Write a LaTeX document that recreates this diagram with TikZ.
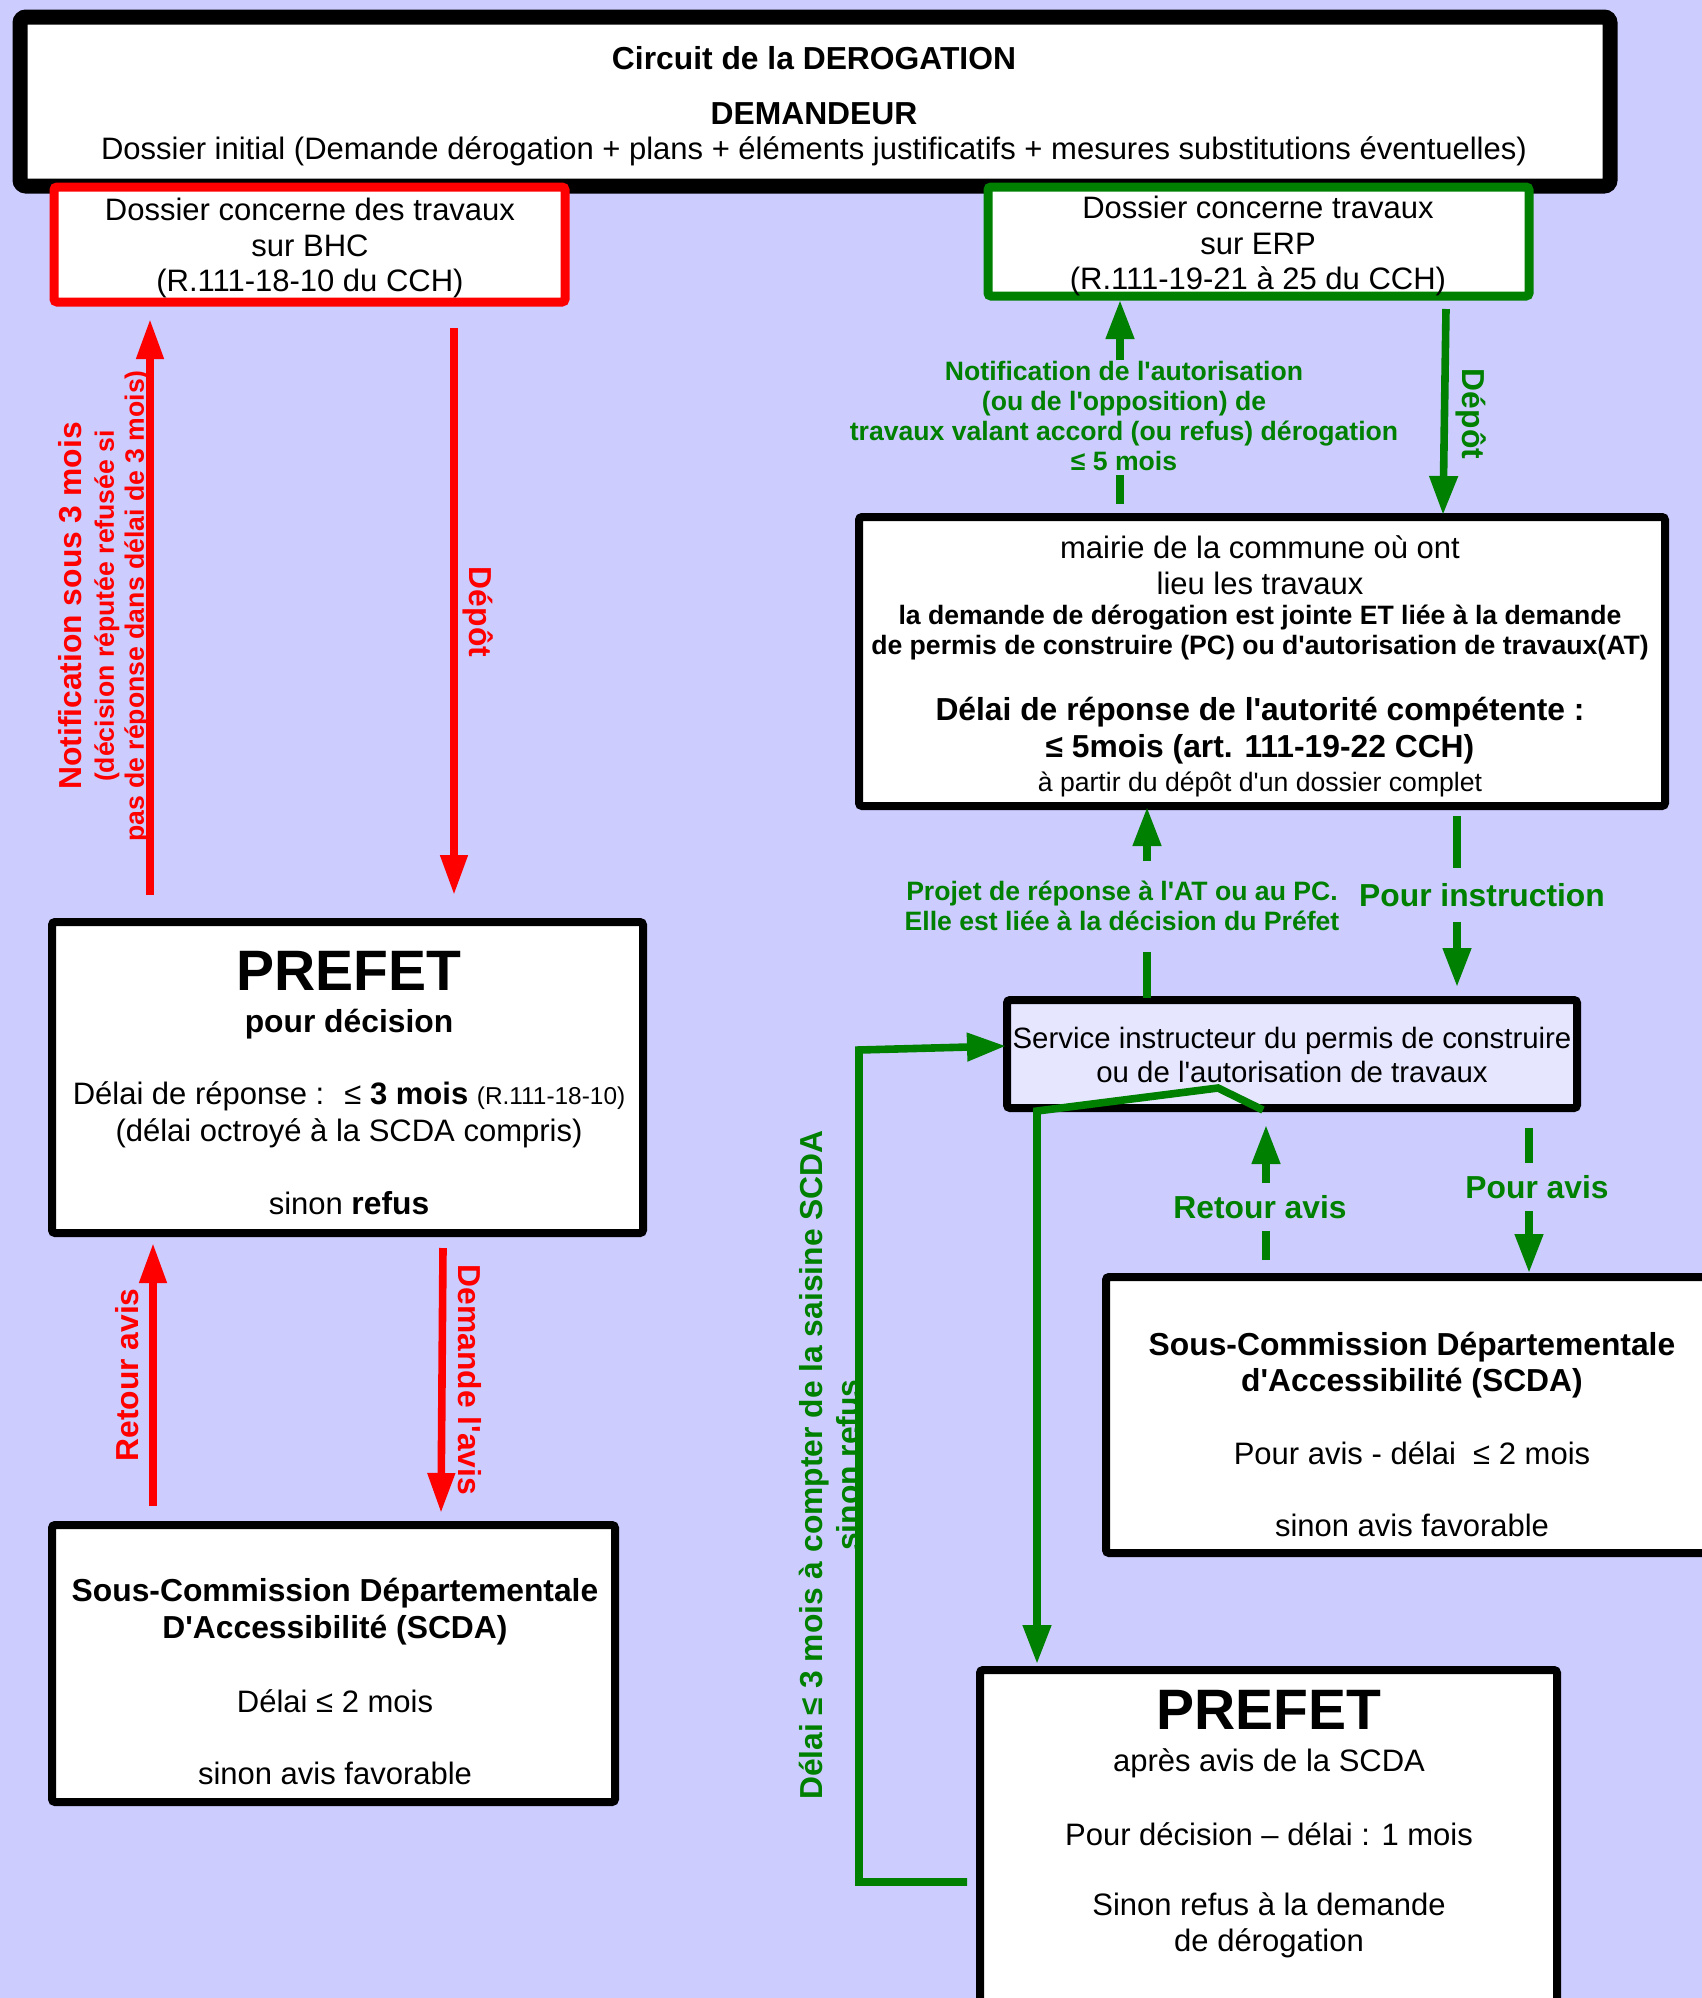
\documentclass[tikz,border=0pt]{standalone}
\usepackage{fontspec}
\setmainfont{Liberation Sans}[Ligatures=TeXOff]
\usetikzlibrary{arrows.meta,fit}
\definecolor{bgc}{RGB}{204,204,255}
\definecolor{dgreen}{RGB}{0,128,0}
\definecolor{svcfill}{RGB}{230,230,255}
\newcommand{\fszA}{\fontsize{15.5}{17.8}\selectfont}
\newcommand{\fszF}{\fontsize{15.9}{17.8}\selectfont}
\newcommand{\fszB}{\fontsize{13.3}{15}\selectfont}
\newcommand{\fszC}{\fontsize{28.5}{32}\selectfont}
\newcommand{\fszD}{\fontsize{14.7}{17}\selectfont}
\newcommand{\fszE}{\fontsize{12.2}{14}\selectfont}
\begin{document}
\begin{tikzpicture}[x=0.5pt,y=-0.5pt,
  boxk/.style={draw=black,line width=4pt,fill=white,rounded corners=1.5pt,inner sep=0pt},
  boxr/.style={draw=red,line width=4.5pt,fill=white,rounded corners=1.5pt,inner sep=0pt},
  boxg/.style={draw=dgreen,line width=4.5pt,fill=white,rounded corners=1.5pt,inner sep=0pt},
  tx/.style={inner sep=0pt,align=center,font=\fszA},
  rlab/.style={inner sep=0pt,align=center,text=red,font=\fszF\bfseries},
  glab/.style={inner sep=0pt,align=center,text=dgreen,font=\fszF\bfseries},
  rarr/.style={draw=red,line width=3.8pt,-{Triangle[width=13pt,length=20pt]}},
  garr/.style={draw=dgreen,line width=3.8pt,-{Triangle[width=13.5pt,length=19.5pt]}},
  gline/.style={draw=dgreen,line width=3.8pt},
]
\path[use as bounding box] (0,0) rectangle (1702,1998);
\clip (0,0) rectangle (1702,1998);
\fill[bgc] (0,0) rectangle (1702,1998);

% ---------- boxes ----------
\node[boxk,line width=7.5pt,rounded corners=3pt,fit={(20,17) (1610,186)}] (top) {};
\node[boxr,fit={(54,187) (565,302)}] (bhc) {};
\node[boxg,fit={(988,187) (1529,296)}] (erp) {};
\node[boxk,fit={(859,517) (1665,806)}] (mairie) {};
\node[boxk,fit={(52,922) (643,1233)}] (lpref) {};
\node[boxk,fit={(52,1525) (615,1802)}] (lscda) {};
\node[boxk,fill=svcfill,fit={(1007,1000) (1577,1108)}] (svc) {};
\node[boxk,fit={(1106,1277) (1730,1553)}] (rscda) {};
\node[boxk,fit={(980,1670) (1557,2030)}] (rpref) {};

% ---------- texts in boxes ----------
\node[tx] (ttop) at (814,106) {{\fszF\bfseries Circuit de la DEROGATION}\\[9.7pt]{\fszF\bfseries DEMANDEUR}\\Dossier initial (Demande dérogation + plans + éléments justificatifs + mesures substitutions éventuelles)};
\node[tx] (tbhc) at (310,248) {Dossier concerne des travaux\\sur BHC\\(R.111-18-10 du CCH)};
\node[tx] (terp) at (1258,246) {Dossier concerne travaux\\sur ERP\\(R.111-19-21 à 25 du CCH)};

\node[tx] (tm1) at (1260,565) {mairie de la commune où ont\\lieu les travaux};
\node[tx,font=\fszB\bfseries] (tm2) at (1260,632) {la demande de dérogation est jointe ET liée à la demande\\de permis de construire (PC) ou d'autorisation de travaux(AT)};
\node[tx,font=\fszF\bfseries] (tm3) at (1260,731) {Délai de réponse de l'autorité compétente :\\[0.7pt]≤ 5mois (art. 111-19-22 CCH)};
\node[tx,font=\fszB] (tm4) at (1260,784) {à partir du dépôt d'un dossier complet};

\node[tx,font=\fszC\bfseries] (tlp1) at (349,971) {PREFET};
\node[tx,font=\fszF\bfseries] (tlp2) at (349,1024) {pour décision};
\node[tx] (tlp3) at (349,1115) {Délai de réponse :~ ≤ \textbf{3 mois} {\fszE (R.111-18-10)}\\[0.7pt](délai octroyé à la SCDA compris)};
\node[tx] (tlp4) at (349,1203) {sinon {\fszF\bfseries refus}};

\node[tx,font=\fszF\bfseries] (tls1) at (335,1612) {Sous-Commission Départementale\\[0.7pt]D'Accessibilité (SCDA)};
\node[tx] (tls2) at (335,1701) {Délai ≤ 2 mois};
\node[tx] (tls3) at (335,1773) {sinon avis favorable};

\node[tx,font=\fszD] (tsv) at (1292,1055) {Service instructeur du permis de construire\\ou de l'autorisation de travaux};

\node[tx,font=\fszF\bfseries] (trs1) at (1412,1365) {Sous-Commission Départementale\\d'Accessibilité (SCDA)};
\node[tx] (trs2) at (1412,1453) {Pour avis - délai~ ≤ 2 mois};
\node[tx] (trs3) at (1412,1525) {sinon avis favorable};

\node[tx,font=\fszC\bfseries] (trp1) at (1269,1710) {PREFET};
\node[tx] (trp2) at (1269,1763) {après avis de la SCDA};
\node[tx] (trp3) at (1269,1834) {Pour décision – délai : 1 mois};
\node[tx] (trp4) at (1269,1925) {Sinon refus à la demande\\de dérogation};

% ---------- red connectors ----------
\coordinate (rn1) at (150,895); \coordinate (rn2) at (150,319);
\coordinate (rd1) at (454,328); \coordinate (rd2) at (454,895);
\coordinate (rr1) at (153,1506); \coordinate (rr2) at (153,1243);
\coordinate (ra1) at (443,1248); \coordinate (ra2) at (441,1513);
\draw[rarr] (rn1) -- (rn2);
\draw[rarr] (rd1) -- (rd2);
\draw[rarr] (rr1) -- (rr2);
\draw[rarr] (ra1) -- (ra2);

\node[rlab,font=\fszB\bfseries,rotate=90] (tnotifL) at (104,606) {{\fszF Notification sous 3 mois}\\[1pt](décision réputée refusée si\\pas de réponse dans délai de 3 mois)};
\node[rlab,rotate=-90] (tdepotL) at (478,612) {Dépôt};
\node[rlab,rotate=90] (tretL) at (127,1375) {Retour avis};
\node[rlab,rotate=-90] (tdemL) at (470,1380) {Demande l'avis};

% ---------- green connectors ----------
\coordinate (gn0) at (1120,504); \coordinate (gn1) at (1120,475);
\coordinate (gn2) at (1120,360); \coordinate (gn3) at (1120,300);
\draw[gline] (gn0) -- (gn1);
\draw[garr] (gn2) -- (gn3);
\node[glab,font=\fszB\bfseries] (tgn) at (1124,416) {Notification de l'autorisation\\(ou de l'opposition) de\\travaux valant accord (ou refus) dérogation\\≤ 5 mois};

\coordinate (gd1) at (1446,309); \coordinate (gd2) at (1443,515);
\draw[garr] (gd1) -- (gd2);
\node[glab,rotate=-90] (tgd) at (1471,414) {Dépôt};

\coordinate (gp0) at (1147,998); \coordinate (gp1) at (1147,952);
\coordinate (gp2) at (1147,861); \coordinate (gp3) at (1147,807);
\draw[gline] (gp0) -- (gp1);
\draw[garr] (gp2) -- (gp3);
\node[glab,font=\fszB\bfseries] (tgp) at (1122,906) {Projet de réponse à l'AT ou au PC.\\Elle est liée à la décision du Préfet};

\coordinate (gi0) at (1457,816); \coordinate (gi1) at (1457,868);
\coordinate (gi2) at (1457,922); \coordinate (gi3) at (1457,987);
\draw[gline] (gi0) -- (gi1);
\draw[garr] (gi2) -- (gi3);
\node[glab] (tgi) at (1482,895) {Pour instruction};

\coordinate (gr0) at (1266,1260); \coordinate (gr1) at (1266,1231);
\coordinate (gr2) at (1266,1183); \coordinate (gr3) at (1266,1125);
\draw[gline] (gr0) -- (gr1);
\draw[garr] (gr2) -- (gr3);
\node[glab] (tgr) at (1260,1207) {Retour avis};

\coordinate (ga0) at (1529,1128); \coordinate (ga1) at (1529,1163);
\coordinate (ga2) at (1529,1211); \coordinate (ga3) at (1529,1273);
\draw[gline] (ga0) -- (ga1);
\draw[garr] (ga2) -- (ga3);
\node[glab] (tga) at (1537,1187) {Pour avis};

\coordinate (gz0) at (1263,1110); \coordinate (gz1) at (1218,1088);
\coordinate (gz2) at (1037,1111); \coordinate (gz3) at (1037,1664);
\draw[garr,line join=miter] (gz0) -- (gz1) -- (gz2) -- (gz3);

\coordinate (gl0) at (967,1882); \coordinate (gl1) at (859,1882);
\coordinate (gl2) at (859,1050); \coordinate (gl3) at (1006,1046);
\draw[garr,line join=miter] (gl0) -- (gl1) -- (gl2) -- (gl3);
\node[glab,rotate=90] (tgdl) at (829,1465) {Délai ≤ 3 mois à compter de la saisine SCDA\\[0.7pt]sinon refus};
\end{tikzpicture}
\end{document}
